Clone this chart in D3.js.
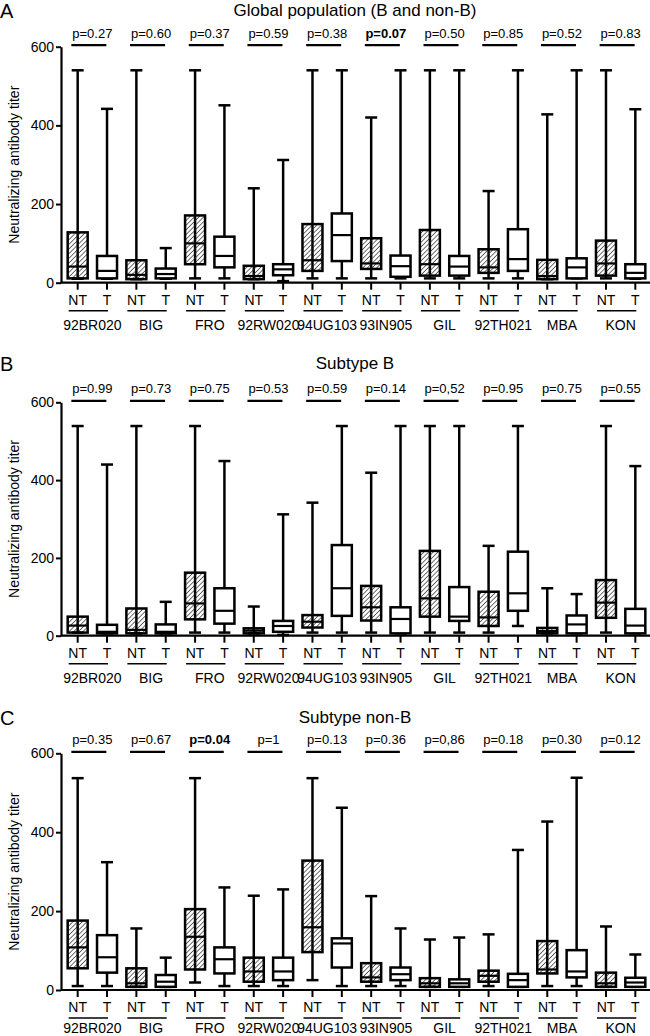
<!DOCTYPE html>
<html>
<head>
<meta charset="utf-8">
<script src="https://cdn.jsdelivr.net/npm/d3@7"></script>
<style>
  body { margin: 0; background: #fff; }
  svg { font-family: "Liberation Sans", Arial, sans-serif; }
</style>
</head>
<body>
<svg class="chart" width="650" height="1036"></svg>
<script>
// categories
var strains = ["92BR020", "BIG", "FRO", "92RW020", "94UG103", "93IN905", "GIL", "92TH021", "MBA", "KON"];
var arms = ["NT", "T"];
var yTicks = [0, 200, 400, 600];

// p-values per panel
var pGlobal = ["p=0.27", "p=0.60", "p=0.37", "p=0.59", "p=0.38", "p=0.07", "p=0.50", "p=0.85", "p=0.52", "p=0.83"];
var pSubB   = ["p=0.99", "p=0.73", "p=0.75", "p=0.53", "p=0.59", "p=0.14", "p=0,52", "p=0.95", "p=0.75", "p=0.55"];
var pNonB   = ["p=0.35", "p=0.67", "p=0.04", "p=1", "p=0.13", "p=0.36", "p=0,86", "p=0.18", "p=0.30", "p=0.12"];

// box values: [min, q1, median, q3, max]
var globalNT = [[10,11,41,128,540],[9,9,20,57,540],[11,47,100,171,540],[9,9,17,43,240],[11,30,57,149,540],
                [11,35,49,113,420],[11,18,47,134,540],[11,25,39,85,233],[9,9,17,58,428],[11,18,49,107,540]];
var globalT  = [[10,11,30,68,442],[10,11,22,36,88],[11,39,68,117,451],[4,19,34,47,312],[11,55,121,176,540],
                [11,15,42,69,540],[11,18,41,68,540],[11,30,60,136,540],[11,11,39,62,540],[10,11,25,47,441]];
var subBNT   = [[8,8,26,49,539],[6,6,15,70,539],[8,42,83,162,539],[6,6,13,19,75],[8,21,36,53,342],
                [8,39,73,128,419],[8,49,96,218,539],[8,25,47,113,231],[6,6,12,20,122],[8,46,85,143,539]];
var subBT    = [[6,6,10,28,440],[6,6,10,29,87],[8,31,64,122,449],[2,10,25,38,312],[8,51,122,233,539],
                [6,6,43,73,539],[8,38,49,125,539],[25,64,109,216,539],[6,6,29,52,107],[6,6,26,69,436]];
var nonBNT   = [[10,55,108,176,537],[8,8,17,55,156],[19,52,135,205,537],[10,21,47,82,239],[25,96,159,328,537],
                [10,21,32,68,238],[8,8,17,30,128],[10,21,36,49,141],[10,42,52,124,427],[8,8,17,44,161]];
var nonBT    = [[10,44,83,139,324],[8,8,21,38,82],[10,42,78,108,260],[10,25,47,82,255],[10,57,118,131,462],
                [10,25,40,57,156],[8,8,17,27,133],[8,8,25,41,355],[10,32,47,101,538],[8,8,19,31,90]];

var panels = [
  {letter: "A", title: "Global population (B and non-B)", p: pGlobal, bold: "p=0.07", nt: globalNT, t: globalT,
   top: 46.7, bottom: 282.7, titleY: 16, letterY: 18, nameOff: 47},
  {letter: "B", title: "Subtype B", p: pSubB, bold: null, nt: subBNT, t: subBT,
   top: 402.3, bottom: 635.7, titleY: 369, letterY: 371, nameOff: 47},
  {letter: "C", title: "Subtype non-B", p: pNonB, bold: "p=0.04", nt: nonBNT, t: nonBT,
   top: 753.3, bottom: 990, titleY: 723, letterY: 725, nameOff: 43}
];

var svg = d3.select(".chart");
var axisX = 61;

// hatch pattern for NT boxes
var defs = svg.append("defs");
defs.append("pattern")
    .attr("id", "hatch")
    .attr("patternUnits", "userSpaceOnUse")
    .attr("width", 3.3).attr("height", 3.3)
    .attr("patternTransform", "rotate(45)")
    .append("line")
    .attr("x1", 0).attr("y1", 0).attr("x2", 0).attr("y2", 3.3)
    .attr("stroke", "#222").attr("stroke-width", 1.3);

var xGroup = d3.scaleBand().domain(strains).range([63, 650]);
var xArm = d3.scaleBand().domain(arms).range([0, xGroup.bandwidth()]);
function cx(i, arm) { return xGroup(strains[i]) + xArm(arm) + xArm.bandwidth() / 2; }

var boxW = 20, capW = 12;

panels.forEach(function(pn) {
    var y = d3.scaleLinear().domain([0, 600]).range([pn.bottom, pn.top]);
    var g = svg.append("g");

    // letter and title
    g.append("text").attr("x", 0).attr("y", pn.letterY)
        .style("font-size", "20px").text(pn.letter);
    g.append("text").attr("x", 355).attr("y", pn.titleY)
        .attr("text-anchor", "middle").style("font-size", "17px").text(pn.title);

    // y axis
    var yAxis = d3.axisLeft(y).tickValues(yTicks).tickSize(5).tickPadding(2).tickSizeOuter(0);
    var ya = g.append("g").attr("transform", "translate(" + axisX + ",0)").call(yAxis);
    ya.select(".domain").attr("stroke", "#000").attr("stroke-width", 2.2);
    ya.selectAll(".tick line").attr("stroke", "#000").attr("stroke-width", 2);
    ya.selectAll(".tick text").style("font-size", "14px").style("font-family", "Liberation Sans, Arial").attr("fill", "#000");

    g.append("text")
        .attr("transform", "translate(19," + ((pn.top + pn.bottom) / 2) + ") rotate(-90)")
        .attr("text-anchor", "middle").style("font-size", "14px")
        .text("Neutralizing antibody titer");

    // x axis line
    g.append("line").attr("x1", axisX).attr("x2", 650)
        .attr("y1", pn.bottom).attr("y2", pn.bottom)
        .attr("stroke", "#000").attr("stroke-width", 2.2);

    strains.forEach(function(s, i) {
        var gc = xGroup(s) + xGroup.bandwidth() / 2;

        // p-value and bar
        g.append("text").attr("x", gc).attr("y", pn.top - 9)
            .attr("text-anchor", "middle").style("font-size", "13px")
            .attr("font-weight", pn.p[i] === pn.bold ? "bold" : "normal")
            .text(pn.p[i]);
        g.append("line").attr("x1", gc - 21).attr("x2", gc + 14)
            .attr("y1", pn.top - 1.5).attr("y2", pn.top - 1.5)
            .attr("stroke", "#000").attr("stroke-width", 2.2);

        // group label and underline
        g.append("line").attr("x1", cx(i, "NT") - 9).attr("x2", cx(i, "T") + 1)
            .attr("y1", pn.bottom + 28).attr("y2", pn.bottom + 28)
            .attr("stroke", "#000").attr("stroke-width", 1.5);
        g.append("text").attr("x", gc).attr("y", pn.bottom + pn.nameOff)
            .attr("text-anchor", "middle").style("font-size", "14px").text(s);

        arms.forEach(function(arm) {
            var v = arm === "NT" ? pn.nt[i] : pn.t[i];
            var x = cx(i, arm);

            // x tick and label
            g.append("line").attr("x1", x).attr("x2", x)
                .attr("y1", pn.bottom).attr("y2", pn.bottom + 7)
                .attr("stroke", "#000").attr("stroke-width", 2);
            g.append("text").attr("x", x).attr("y", pn.bottom + 22)
                .attr("text-anchor", "middle").style("font-size", "14px").text(arm);

            // whiskers
            g.append("line").attr("x1", x).attr("x2", x)
                .attr("y1", y(v[4])).attr("y2", y(v[0]))
                .attr("stroke", "#000").attr("stroke-width", 2.5);
            [v[0], v[4]].forEach(function(c) {
                g.append("line").attr("x1", x - capW / 2).attr("x2", x + capW / 2)
                    .attr("y1", y(c)).attr("y2", y(c))
                    .attr("stroke", "#000").attr("stroke-width", 2.5);
            });

            // box
            g.append("rect")
                .attr("x", x - boxW / 2).attr("y", y(v[3]))
                .attr("width", boxW).attr("height", Math.max(1, y(v[1]) - y(v[3])))
                .attr("fill", arm === "NT" ? "url(#hatch)" : "#fff")
                .attr("stroke", "#000").attr("stroke-width", 2.5);
            g.append("line").attr("x1", x - boxW / 2).attr("x2", x + boxW / 2)
                .attr("y1", y(v[2])).attr("y2", y(v[2]))
                .attr("stroke", "#000").attr("stroke-width", 2.2);
        });
    });
});
</script>
</body>
</html>
